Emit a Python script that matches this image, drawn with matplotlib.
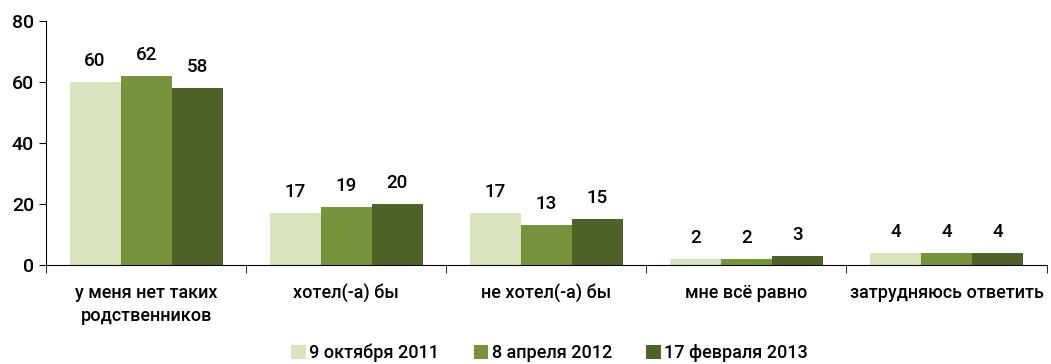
import matplotlib
matplotlib.use("Agg")
import matplotlib.pyplot as plt
import numpy as np
from matplotlib import font_manager

names = {f.name for f in font_manager.fontManager.ttflist}
family = "Liberation Sans Narrow" if "Liberation Sans Narrow" in names else "Roboto"
plt.rcParams["font.family"] = [family, "DejaVu Sans"]

categories = ["у меня нет таких\nродственников", "хотел(-а) бы", "не хотел(-а) бы",
              "мне всё равно", "затрудняюсь ответить"]
series_names = ["9 октября 2011", "8 апреля 2012", "17 февраля 2013"]
oct_2011 = [60, 17, 17, 2, 4]
apr_2012 = [62, 19, 13, 2, 4]
feb_2013 = [58, 20, 15, 3, 4]
colors = ["#d7e4bd", "#77933c", "#4f6228"]

fig = plt.figure(figsize=(10.51, 3.64), dpi=100)
ax = fig.add_axes([0.0438, 0.272, 0.952, 0.670])

x = np.arange(len(categories))
w = 0.255
for i, (vals, name, c) in enumerate(zip([oct_2011, apr_2012, feb_2013], series_names, colors)):
    pos = x + (i - 1) * w
    ax.bar(pos, vals, width=w, color=c, label=name)
    for p, v in zip(pos, vals):
        ax.text(p, v + 4, str(v), ha="center", va="bottom", fontsize=13.5,
                fontweight="medium")

ax.set_xlim(-0.5, len(categories) - 0.5)
ax.set_ylim(0, 80)
ax.set_yticks([0, 20, 40, 60, 80])
ax.tick_params(axis="y", labelsize=14, length=5, direction="out")
for t in ax.get_yticklabels():
    t.set_fontweight("medium")
ax.set_xticks(x)
ax.set_xticklabels(categories, fontsize=13, fontweight="medium", linespacing=1.35)
ax.tick_params(axis="x", length=0, pad=14)
ax.set_xticks(np.arange(len(categories) + 1) - 0.5, minor=True)
ax.tick_params(axis="x", which="minor", length=6, direction="out")
for s in ["top", "right"]:
    ax.spines[s].set_visible(False)

fig.legend(loc="lower center", bbox_to_anchor=(0.523, -0.04), ncol=3, frameon=False,
           prop={"size": 13, "weight": "medium"}, handlelength=0.8, handleheight=0.8,
           handletextpad=0.2, columnspacing=1.9)

fig.savefig("out.png", dpi=100)
